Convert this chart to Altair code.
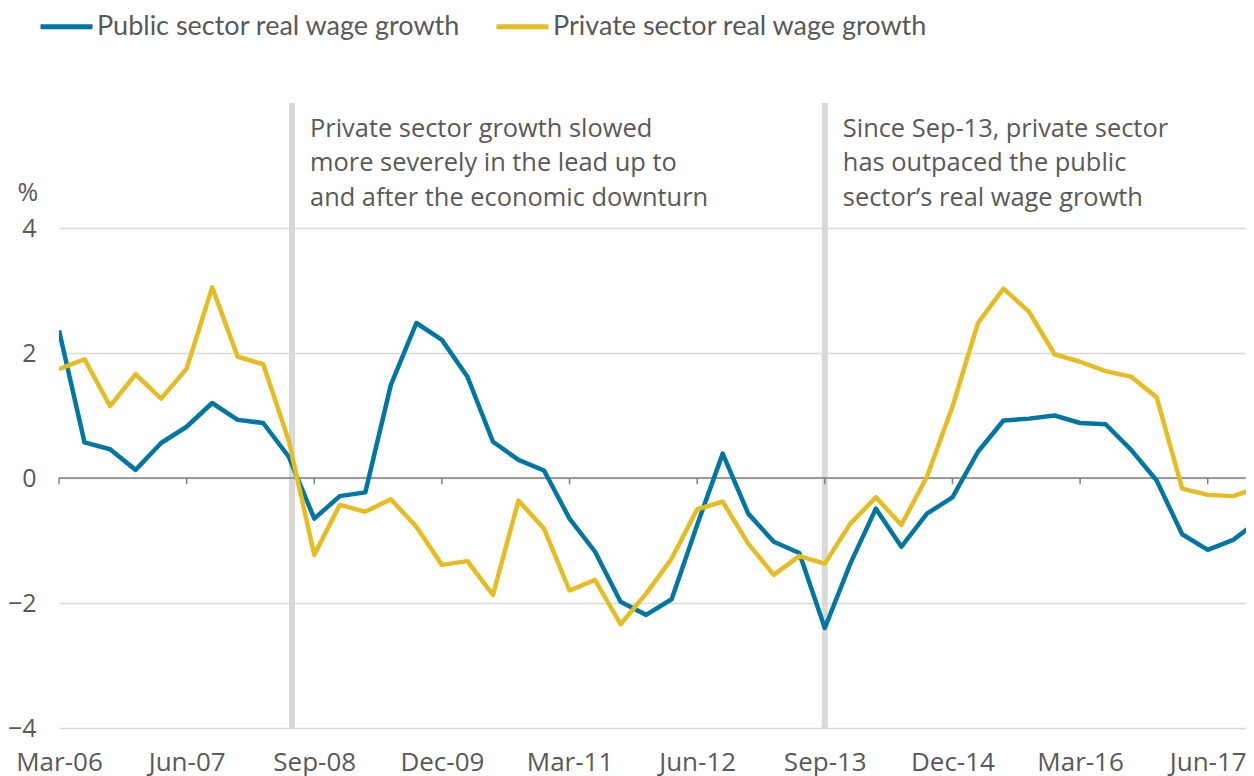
import altair as alt
import pandas as pd

quarters = [
    "Mar-06", "Jun-06", "Sep-06", "Dec-06", "Mar-07", "Jun-07", "Sep-07", "Dec-07",
    "Mar-08", "Jun-08", "Sep-08", "Dec-08", "Mar-09", "Jun-09", "Sep-09", "Dec-09",
    "Mar-10", "Jun-10", "Sep-10", "Dec-10", "Mar-11", "Jun-11", "Sep-11", "Dec-11",
    "Mar-12", "Jun-12", "Sep-12", "Dec-12", "Mar-13", "Jun-13", "Sep-13", "Dec-13",
    "Mar-14", "Jun-14", "Sep-14", "Dec-14", "Mar-15", "Jun-15", "Sep-15", "Dec-15",
    "Mar-16", "Jun-16", "Sep-16", "Dec-16", "Mar-17", "Jun-17", "Sep-17", "Dec-17",
]

public = [2.36, 0.57, 0.46, 0.13, 0.56, 0.82, 1.20, 0.93, 0.88, 0.34,
          -0.65, -0.29, -0.23, 1.49, 2.48, 2.21, 1.62, 0.58, 0.29, 0.12,
          -0.65, -1.18, -1.98, -2.19, -1.94, -0.75, 0.39, -0.57, -1.02, -1.20,
          -2.40, -1.37, -0.49, -1.10, -0.57, -0.31, 0.42, 0.92, 0.95, 1.00,
          0.88, 0.86, 0.45, -0.04, -0.90, -1.15, -0.99, -0.68]

private = [1.74, 1.90, 1.15, 1.66, 1.27, 1.75, 3.05, 1.94, 1.82, 0.60,
           -1.23, -0.43, -0.54, -0.34, -0.78, -1.39, -1.33, -1.87, -0.36, -0.81,
           -1.80, -1.63, -2.34, -1.85, -1.29, -0.50, -0.38, -1.05, -1.55, -1.25,
           -1.37, -0.73, -0.31, -0.75, 0.02, 1.14, 2.48, 3.03, 2.66, 1.98,
           1.86, 1.71, 1.62, 1.29, -0.17, -0.27, -0.29, -0.15]

series_names = ["Public sector real wage growth", "Private sector real wage growth"]
series_colors = ["#0077A3", "#E5BD22"]

tick_labels = ["Mar-06", "Jun-07", "Sep-08", "Dec-09", "Mar-11",
               "Jun-12", "Sep-13", "Dec-14", "Mar-16", "Jun-17"]
y_ticks = [-4, -2, 0, 2, 4]

event_positions = [9.13, 30]
event_texts = [
    ["Private sector growth slowed", "more severely in the lead up to", "and after the economic downturn"],
    ["Since Sep-13, private sector", "has outpaced the public", "sector\u2019s real wage growth"],
]

X_MAX = 46.5
Y_MIN, Y_MAX = -4, 6
GRAY_TEXT = "#595959"
FONT = "Open Sans"

rows = []
for i, q in enumerate(quarters):
    rows.append({"i": i, "q": q, "series": series_names[0], "value": public[i]})
    rows.append({"i": i, "q": q, "series": series_names[1], "value": private[i]})
df = pd.DataFrame(rows)

tick_pos = [quarters.index(t) for t in tick_labels]
label_js = "[" + ",".join("'" + t + "'" for t in tick_labels) + "]"

xscale = alt.Scale(domain=[0, X_MAX], nice=False, zero=False)
yscale = alt.Scale(domain=[Y_MIN, Y_MAX], nice=False, zero=False)

x_axis = alt.Axis(values=tick_pos, labelExpr=label_js + "[round(datum.value/5)]",
                  grid=False, domain=False, ticks=False, labelPadding=21,
                  labelFlush=False, labelOverlap=False,
                  labelFontSize=26, labelColor=GRAY_TEXT, labelFont=FONT, title=None)
y_axis = alt.Axis(values=y_ticks, format="d", grid=True, gridColor="#D9D9D9", gridWidth=1.3,
                  domain=False, ticks=False, labelFontSize=25, labelColor=GRAY_TEXT,
                  labelFont=FONT, labelPadding=23, title="%", titleAngle=0,
                  titleX=-42, titleY=89, titleAlign="left", titleBaseline="middle",
                  titleFontWeight="normal", titleFontSize=25, titleColor=GRAY_TEXT,
                  titleFont=FONT)

base_grid = alt.Chart(pd.DataFrame({"i": [0], "value": [0]})).mark_point(opacity=0).encode(
    x=alt.X("i:Q", scale=xscale, axis=x_axis),
    y=alt.Y("value:Q", scale=yscale, axis=y_axis),
)

events_df = pd.DataFrame({"pos": event_positions, "y0": [Y_MIN] * 2, "y1": [Y_MAX] * 2,
                          "text": event_texts, "ty": [5.78] * 2})
event_rules = alt.Chart(events_df).mark_rule(color="#D9D9D9", strokeWidth=6).encode(
    x=alt.X("pos:Q", scale=xscale), y=alt.Y("y0:Q", scale=yscale), y2="y1:Q")

zero_df = pd.DataFrame({"x0": [0], "x1": [X_MAX], "v": [0]})
zero_line = alt.Chart(zero_df).mark_rule(color="#7F7F7F", strokeWidth=1.5).encode(
    x=alt.X("x0:Q", scale=xscale), x2="x1:Q", y=alt.Y("v:Q", scale=yscale))

ticks_df = pd.DataFrame({"i": tick_pos, "v0": [0] * len(tick_pos), "v1": [-0.1] * len(tick_pos)})
zero_ticks = alt.Chart(ticks_df).mark_rule(color="#7F7F7F", strokeWidth=1.5).encode(
    x=alt.X("i:Q", scale=xscale), y=alt.Y("v0:Q", scale=yscale), y2="v1:Q")

lines = alt.Chart(df).mark_line(strokeWidth=4.5, strokeJoin="round", clip=True).encode(
    x=alt.X("i:Q", scale=xscale),
    y=alt.Y("value:Q", scale=yscale),
    color=alt.Color("series:N",
                    scale=alt.Scale(domain=series_names, range=series_colors),
                    legend=alt.Legend(title=None, orient="none", direction="horizontal",
                                      legendX=-21, legendY=-105, symbolType="stroke",
                                      symbolSize=2704, symbolStrokeWidth=5,
                                      labelFontSize=27, labelColor=GRAY_TEXT,
                                      labelFont="Lato", labelOffset=2,
                                      columnPadding=25, padding=0, labelLimit=600)),
    order="i:Q",
)

notes = alt.Chart(events_df).mark_text(align="left", baseline="top", dx=18,
                                       fontSize=25.4, lineHeight=34.5, font=FONT,
                                       color=GRAY_TEXT).encode(
    x=alt.X("pos:Q", scale=xscale), y=alt.Y("ty:Q", scale=yscale), text="text")

chart = alt.layer(base_grid, event_rules, zero_line, zero_ticks, lines, notes).properties(
    width=1187, height=625,
    autosize=alt.AutoSizeParams(type="none"),
    padding={"left": 51, "top": 95, "right": 0, "bottom": 55},
    background="white",
).configure_view(stroke=None)

chart.save("out.html", embed_options={"renderer": "svg", "actions": False})
